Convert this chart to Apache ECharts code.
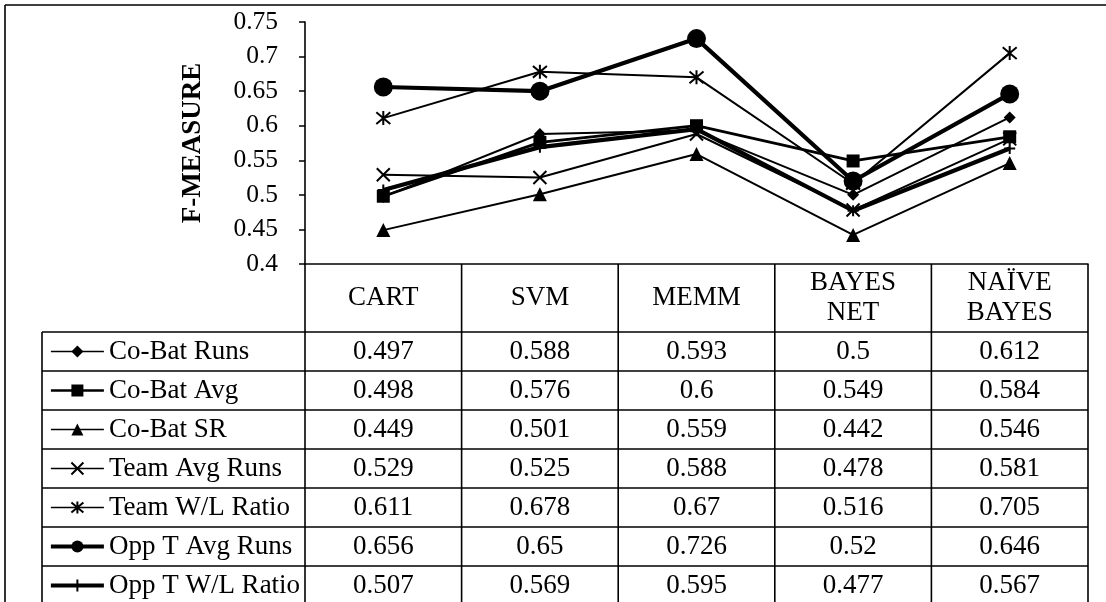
<!DOCTYPE html>
<html>
<head>
<meta charset="utf-8">
<script src="https://cdn.jsdelivr.net/npm/echarts@6/dist/echarts.min.js"></script>
<style>
  html, body { margin: 0; padding: 0; background: #fff; }
  #chart { width: 1106px; height: 602px; }
</style>
</head>
<body>
<div id="chart"></div>
<script>
// Classifier columns (table header / x categories)
const categories = ['CART', 'SVM', 'MEMM', 'BAYES\nNET', 'NAÏVE\nBAYES'];

// Feature sets (one line each)
const seriesNames = ['Co-Bat Runs', 'Co-Bat Avg', 'Co-Bat SR', 'Team Avg Runs',
                     'Team W/L Ratio', 'Opp T Avg Runs', 'Opp T W/L Ratio'];

// F-measure per classifier
const coBatRuns   = [0.497, 0.588, 0.593, 0.5,   0.612];
const coBatAvg    = [0.498, 0.576, 0.6,   0.549, 0.584];
const coBatSR     = [0.449, 0.501, 0.559, 0.442, 0.546];
const teamAvgRuns = [0.529, 0.525, 0.588, 0.478, 0.581];
const teamWLRatio = [0.611, 0.678, 0.67,  0.516, 0.705];
const oppTAvgRuns = [0.656, 0.65,  0.726, 0.52,  0.646];
const oppTWLRatio = [0.507, 0.569, 0.595, 0.477, 0.567];

// Value axis range
const yMin = 0.4;
const yMax = 0.75;
const yStep = 0.05;

const seriesValues = [coBatRuns, coBatAvg, coBatSR, teamAvgRuns, teamWLRatio, oppTAvgRuns, oppTWLRatio];

const FONT = 'Liberation Serif';
const INK = '#000';
const TABLE_FONT = 27;

// Marker and line style of each series
const looks = [
  { symbol: 'diamond', size: 12, width: 2 },
  { symbol: 'rect', size: 13, width: 2.8 },
  { symbol: 'triangle', size: 14, width: 2 },
  { symbol: 'path://M0,0L10,10M10,0L0,10', size: 13, width: 2, stroke: 2 },
  { symbol: 'path://M0,0L10,10M10,0L0,10M5,-1L5,11', size: 14, width: 2, stroke: 2 },
  { symbol: 'circle', size: 19, width: 4.2 },
  { symbol: 'path://M0,5L10,5M5,0L5,10', size: 11, width: 4.2, stroke: 2 }
];

const series = seriesNames.map((name, i) => ({
  name: name,
  type: 'line',
  data: seriesValues[i],
  symbol: looks[i].symbol,
  symbolSize: looks[i].size,
  showSymbol: true,
  animation: false,
  lineStyle: { color: INK, width: looks[i].width },
  itemStyle: { color: INK, borderColor: INK, borderWidth: looks[i].stroke || 0, opacity: 1 },
  emphasis: { disabled: true }
}));

const chart = echarts.init(document.getElementById('chart'), null, { renderer: 'canvas' });

const option = {
  backgroundColor: '#fff',
  animation: false,
  grid: { left: 305, right: 18, top: 22, bottom: 338, containLabel: false },
  legend: {
    orient: 'vertical',
    left: 49,
    top: 338,
    padding: 0,
    itemWidth: 53,
    itemHeight: 15,
    itemGap: 12,
    selectedMode: false,
    data: seriesNames.map((name, i) => ({
      name: name,
      lineStyle: { color: INK, width: Math.max(1.6, looks[i].width - 0.4) }
    })),
    textStyle: { fontFamily: FONT, fontSize: TABLE_FONT, lineHeight: 27, color: INK }
  },
  xAxis: {
    type: 'category',
    data: categories,
    boundaryGap: true,
    axisLine: { show: true, lineStyle: { color: INK, width: 1.6 } },
    axisTick: { show: false },
    axisLabel: {
      margin: 34,
      verticalAlign: 'middle',
      align: 'center',
      fontFamily: FONT,
      fontSize: TABLE_FONT,
      lineHeight: 30,
      color: INK,
      interval: 0
    },
    splitLine: { show: false }
  },
  yAxis: {
    type: 'value',
    min: yMin,
    max: yMax,
    interval: yStep,
    name: 'F-MEASURE',
    nameLocation: 'middle',
    nameGap: 98,
    nameRotate: 90,
    nameTextStyle: { fontFamily: FONT, fontSize: 27, fontWeight: 'bold', color: INK },
    axisLine: { show: true, lineStyle: { color: INK, width: 1.6 } },
    axisTick: { show: true, inside: false, length: 6, lineStyle: { color: INK, width: 1.5 } },
    axisLabel: {
      margin: 27,
      fontFamily: FONT,
      fontSize: 25.5,
      color: INK,
      formatter: v => String(Math.round(v * 100) / 100)
    },
    splitLine: { show: false }
  },
  series: series
};

chart.setOption(option);

// Data table under the plot, positioned from the axis scales
function buildTable() {
  const centers = categories.map((c, i) => chart.convertToPixel({ xAxisIndex: 0 }, i));
  const half = (centers[1] - centers[0]) / 2;
  const axisY = chart.convertToPixel({ yAxisIndex: 0 }, yMin);
  const leftX = centers[0] - half;
  const rightX = centers[centers.length - 1] + half;
  const headerH = 68;
  const rowH = 39;
  const bodyTop = axisY + headerH;
  const tableLeft = 42;
  const bottomY = bodyTop + rowH * seriesNames.length;
  const lineStyle = { stroke: INK, lineWidth: 1.6 };
  const els = [];

  // outer frame (top and left edges)
  els.push({ type: 'line', shape: { x1: 5, y1: 5, x2: 1106, y2: 5 }, style: lineStyle, silent: true });
  els.push({ type: 'line', shape: { x1: 5, y1: 5, x2: 5, y2: 602 }, style: lineStyle, silent: true });

  // value axis continues down through the table
  els.push({ type: 'line', shape: { x1: leftX, y1: axisY, x2: leftX, y2: bottomY }, style: lineStyle, silent: true });
  // left edge of legend column
  els.push({ type: 'line', shape: { x1: tableLeft, y1: bodyTop, x2: tableLeft, y2: bottomY }, style: lineStyle, silent: true });
  // column separators
  for (let i = 0; i < centers.length; i++) {
    const x = centers[i] + half;
    els.push({ type: 'line', shape: { x1: x, y1: axisY, x2: x, y2: bottomY }, style: lineStyle, silent: true });
  }
  // row separators
  for (let r = 0; r <= seriesNames.length; r++) {
    const y = bodyTop + r * rowH;
    els.push({ type: 'line', shape: { x1: tableLeft, y1: y, x2: rightX, y2: y }, style: lineStyle, silent: true });
  }
  // cell values
  seriesValues.forEach((vals, r) => {
    const cy = bodyTop + (r + 0.5) * rowH;
    vals.forEach((v, c) => {
      els.push({
        type: 'text',
        x: centers[c],
        y: cy,
        silent: true,
        style: {
          text: String(v),
          fontFamily: FONT,
          fontSize: TABLE_FONT,
          fill: INK,
          align: 'center',
          verticalAlign: 'middle'
        }
      });
    });
  });

  chart.setOption({ graphic: { elements: els } });
}

buildTable();
</script>
</body>
</html>
